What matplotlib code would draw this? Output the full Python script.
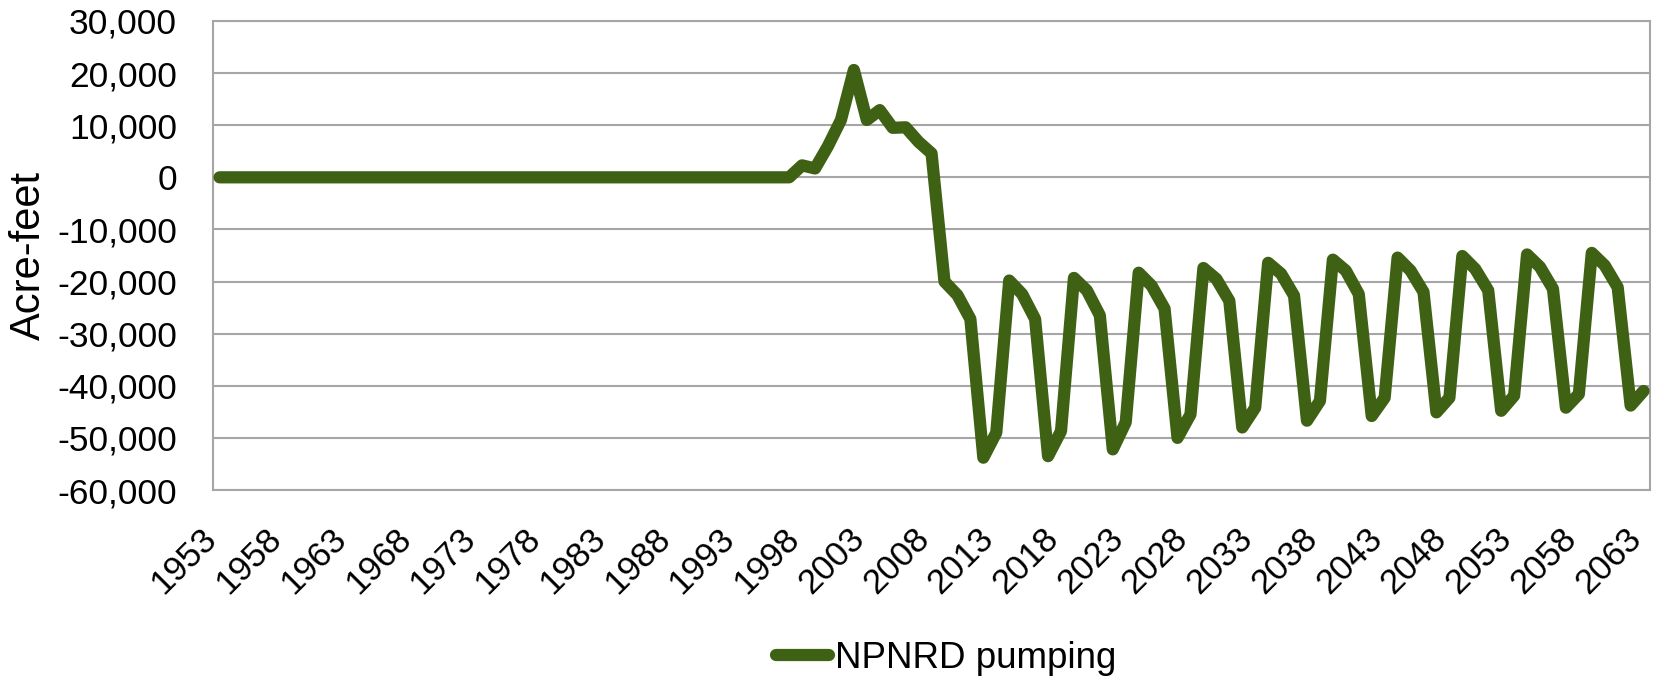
import matplotlib.pyplot as plt
import matplotlib.transforms as mtransforms
from matplotlib.ticker import FuncFormatter
import numpy as np

plt.rcParams['font.family'] = ['Liberation Sans', 'DejaVu Sans']

# NPNRD pumping, acre-feet, one value per year 1953-2063
years = np.arange(1953, 2064)
flat_1953_1997 = [0] * 45
pumping_1998_on = [2300, 1700, 6000, 11000, 20600, 11000, 12900, 9500, 9600, 6800, 4600,
                   -20000, -22600, -27200, -53800, -49000,
                   -19800, -22400, -27200, -53500, -48700,
                   -19300, -21700, -26500, -52200, -47000,
                   -18300, -20800, -25200, -50000, -45500,
                   -17400, -19500, -23700, -48000, -44200,
                   -16400, -18500, -22700, -46700, -42900,
                   -15800, -17900, -22400, -45800, -42300,
                   -15400, -17900, -22000, -45100, -42300,
                   -15100, -17600, -21700, -44800, -41900,
                   -14800, -17200, -21400, -44200, -41600,
                   -14500, -16900, -21100, -43800, -41000]
pumping = flat_1953_1997 + pumping_1998_on
label = "NPNRD pumping"
ylabel = "Acre-feet"

fig = plt.figure(figsize=(16.58, 6.77), dpi=100)
ax = fig.add_axes([0.1285, 0.2762, 0.8667, 0.6928])

line_color = '#3F6114'
grid_color = '#A6A6A6'

ax.plot(years, pumping, color=line_color, lw=8.8, solid_capstyle='round',
        solid_joinstyle='round', label=label, zorder=3)

ax.set_xlim(1952.5, 2063.5)
ax.set_ylim(-60000, 30000)
ax.set_yticks(np.arange(-60000, 30001, 10000))
ax.set_xticks(np.arange(1953, 2064, 5))
ax.yaxis.set_major_formatter(FuncFormatter(lambda v, p: f"{int(v):,}"))
ax.grid(axis='y', color=grid_color, lw=1.5, zorder=0)

for s in ax.spines.values():
    s.set_color(grid_color)
    s.set_linewidth(1.5)

ax.tick_params(axis='y', length=0, pad=26, labelsize=25.5)
ax.tick_params(axis='x', length=0, pad=23, labelsize=25)
for t in ax.get_xticklabels():
    t.set_rotation(45)
    t.set_ha('right')
    t.set_va('top')
    t.set_transform(t.get_transform() + mtransforms.ScaledTranslation(0.04, 0, fig.dpi_scale_trans))

fig.text(29 / 1658, 0.623, ylabel, rotation=90, ha='center', va='center', fontsize=30)

fig.legend(loc='center', bbox_to_anchor=(0.5706, 0.028), frameon=False, fontsize=26.5,
           handlelength=1.45, handletextpad=0.15)

fig.savefig("out.png", dpi=100)
